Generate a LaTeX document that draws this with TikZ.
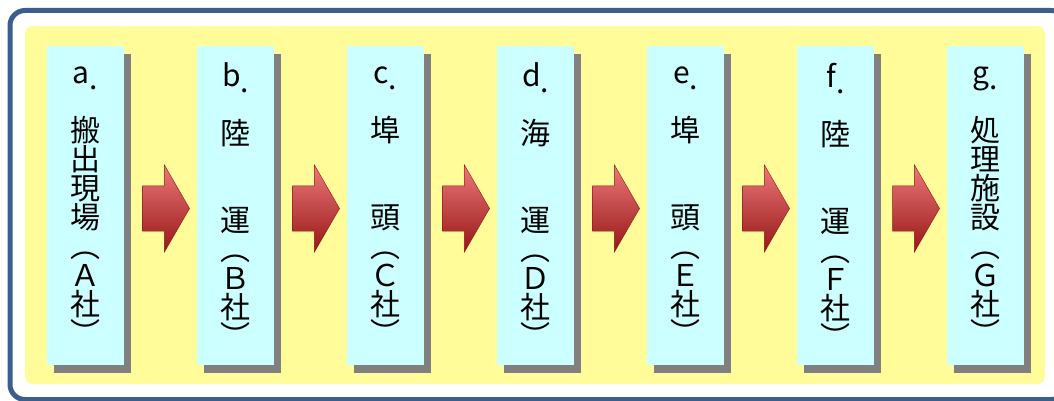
\documentclass[tikz,border=0pt]{standalone}
\usepackage{fontspec}
\setmainfont{Noto Sans CJK JP}
\usepackage{xcolor}
\definecolor{Col1}{RGB}{59,94,140}
\definecolor{Col2}{RGB}{255,252,153}
\definecolor{Col3}{RGB}{204,255,255}
\definecolor{Col4}{RGB}{128,128,128}
\definecolor{Col5}{RGB}{236,120,120}
\definecolor{Col6}{RGB}{206,52,52}
\definecolor{Col7}{RGB}{150,22,22}
\usetikzlibrary{shapes.arrows}
\usetikzlibrary{shadows}
\usetikzlibrary{calc}
\tikzstyle{Frame}=[draw=Col1,fill=white,line width=5pt,rounded corners=15pt]
\tikzstyle{Panel}=[fill=Col2,rounded corners=8pt]
\tikzstyle{Box}=[rectangle,fill=Col3,inner sep=0pt,minimum width=77pt,
minimum height=319pt,align=center,font=\fontsize{30}{29}\selectfont,
drop shadow={shadow xshift=7pt,shadow yshift=-8pt,fill=Col4,opacity=1}]
\tikzstyle{Arrow}=[single arrow,inner xsep=0pt,inner ysep=22.5pt,
minimum height=47pt,single arrow head extend=21pt,single arrow tip angle=120,
shade,top color=Col5,middle color=Col6,bottom color=Col7,draw=Col7,thin]
\newcommand{\Dot}{\raisebox{-6pt}{.}}

\begin{document}
\begin{tikzpicture}[x=1pt,y=-1pt]
            \useasboundingbox (0,0) rectangle (1054,401);
            \draw[Frame] (10,10.5) rectangle (1066,399.5);
            \fill[Panel] (25,26) rectangle (1045,384);
            %
            \node[Box](a)at(85.5,205.5)
                {a\Dot\\ \mbox{}\\ 搬\\ 出\\ 現\\ 場\\ ︵\\ Ａ\\ 社\\ ︶};
            \node[Box](b)at(235.5,205.5)
                {b\Dot\\ \mbox{}\\ 陸\\ \mbox{}\\ \mbox{}\\ 運\\ ︵\\ Ｂ\\ 社\\ ︶};
            \node[Box](c)at(385.5,205.5)
                {c\Dot\\ \mbox{}\\ 埠\\ \mbox{}\\ \mbox{}\\ 頭\\ ︵\\ Ｃ\\ 社\\ ︶};
            \node[Box](d)at(535.5,205.5)
                {d\Dot\\ \mbox{}\\ 海\\ \mbox{}\\ \mbox{}\\ 運\\ ︵\\ Ｄ\\ 社\\ ︶};
            \node[Box](e)at(685.5,205.5)
                {e\Dot\\ \mbox{}\\ 埠\\ \mbox{}\\ \mbox{}\\ 頭\\ ︵\\ Ｅ\\ 社\\ ︶};
            \node[Box](f)at(835.5,205.5)
                {f\Dot\\ \mbox{}\\ 陸\\ \mbox{}\\ \mbox{}\\ 運\\ ︵\\ Ｆ\\ 社\\ ︶};
            \node[Box](g)at(985.5,205.5)
                {g\Dot\\ \mbox{}\\ 処\\ 理\\ 施\\ 設\\ ︵\\ Ｇ\\ 社\\ ︶};
            %
            \node[Arrow](ab)at($(a.east)!.5!(b.west)+(-1,3)$){};
            \node[Arrow](bc)at($(b.east)!.5!(c.west)+(-1,3)$){};
            \node[Arrow](cd)at($(c.east)!.5!(d.west)+(-1,3)$){};
            \node[Arrow](de)at($(d.east)!.5!(e.west)+(-1,3)$){};
            \node[Arrow](ef)at($(e.east)!.5!(f.west)+(-1,3)$){};
            \node[Arrow](fg)at($(f.east)!.5!(g.west)+(-1,3)$){};
        \end{tikzpicture}
\end{document}
